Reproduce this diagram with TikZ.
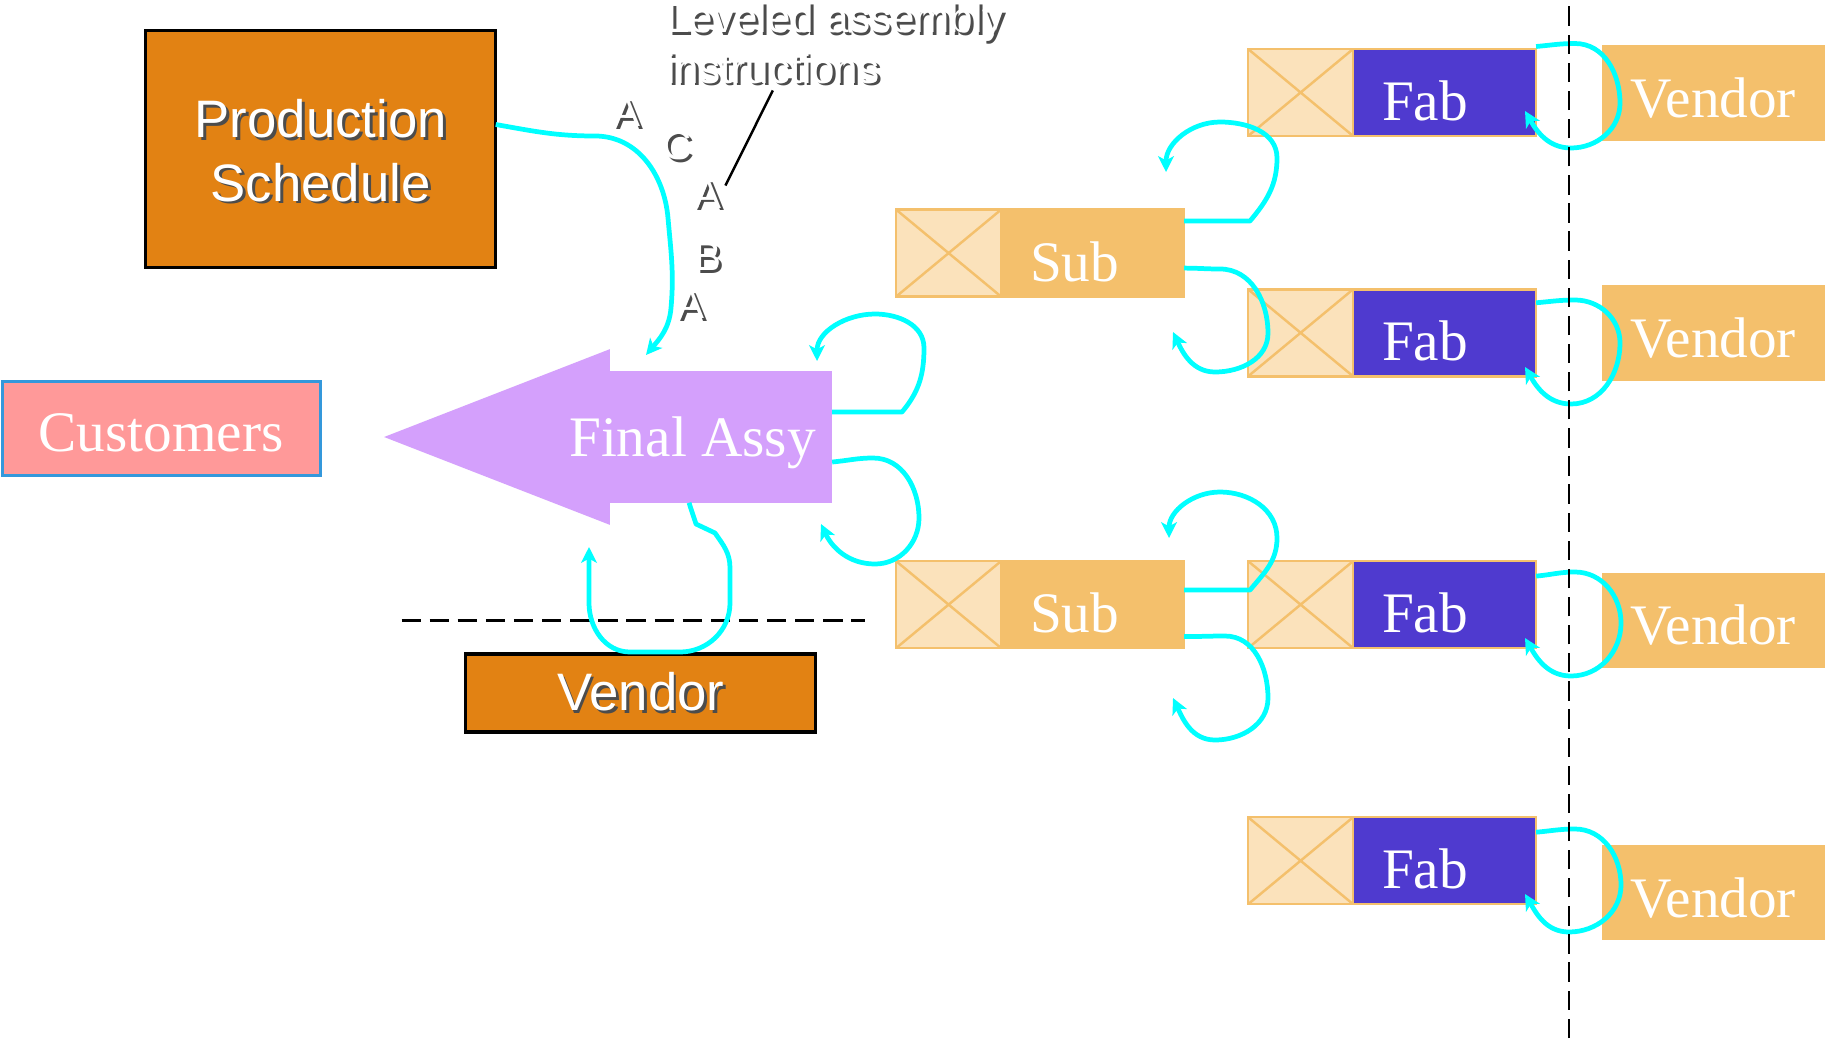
\documentclass[tikz,border=0pt]{standalone}
\usepackage{fontspec}
\setmainfont{Liberation Serif}
\newfontfamily\arialfont{Liberation Sans}
\usepackage{xcolor}
\usepackage{tikz}
\usetikzlibrary{arrows.meta, positioning, calc}
\definecolor{myorange}{RGB}{226,130,19}
\definecolor{mypink}{RGB}{255,153,153}
\definecolor{myblue}{RGB}{52,152,219}
\definecolor{mylilac}{RGB}{212,160,252}
\definecolor{mysand}{RGB}{244,192,108}
\definecolor{mypeach}{RGB}{251,226,187}
\definecolor{myindigo}{RGB}{79,58,207}
\definecolor{mycyan}{RGB}{0,255,255}
\newcommand{\embossed}[1]{\rlap{\kern0.8pt\raisebox{-0.8pt}{\textcolor{black!70}{#1}}}#1}
\tikzset{
  schedbox/.style={rectangle, draw=black, fill=myorange, line width=1pt,
    text=white, align=center, inner sep=0pt, outer sep=0pt,
    font=\arialfont\fontsize{15}{18}\selectfont},
  custbox/.style={rectangle, draw=myblue, fill=mypink, line width=0.9pt,
    text=white, minimum width=3.18cm, minimum height=0.94cm, inner sep=0pt,
    text height=13pt, text depth=0pt, font=\fontsize{16.3}{19}\selectfont},
  crossbox/.style={rectangle, draw=mysand, fill=mypeach, line width=0.7pt,
    minimum width=1.05cm, minimum height=0.87cm, inner sep=0pt, outer sep=0pt,
    path picture={\draw[mysand, line width=0.7pt]
      (path picture bounding box.north west) -- (path picture bounding box.south east)
      (path picture bounding box.south west) -- (path picture bounding box.north east);}},
  subbox/.style={rectangle, draw=mysand, fill=mysand, line width=0.7pt, text=white,
    text width=1.25cm, align=left, inner xsep=0.29cm, inner ysep=0pt,
    text height=16pt, text depth=0pt,
    minimum height=0.87cm, outer sep=0pt, font=\fontsize{16.3}{19}\selectfont},
  fabbox/.style={subbox, fill=myindigo},
  vendbox/.style={subbox, draw=none, text width=1.66cm, minimum height=0.954cm,
    text height=14pt, anchor=west},
  lettr/.style={text=white, inner sep=1pt, font=\arialfont\fontsize{11.5}{13}\selectfont},
  flow/.style={-{Stealth[length=4.5pt, width=4.5pt, inset=1.2pt]}, mycyan,
    line width=1.35pt, line join=round},
  divider/.style={dash pattern=on 5.5pt off 2.5pt, line width=0.75pt}
}

\begin{document}
\begin{tikzpicture}
  \useasboundingbox[fill=white] (0,0) rectangle (18.25,10.38);
  % schedule, customers, vendor
  \node[schedbox, minimum width=3.5cm, minimum height=2.37cm] (sched) at (3.207,8.89) {};
  \node[text=white, align=center, font=\arialfont\fontsize{15}{18}\selectfont] (schedlbl)
    at ([yshift=-0.3mm]sched.center) {\embossed{Production}\\\embossed{Schedule}};
  \node[custbox] (cust) at (1.612,6.091) {Customers};
  \node[schedbox, minimum width=3.5cm, minimum height=0.78cm] (vend) at (6.407,3.449)
    {\embossed{Vendor}};
  % final assembly arrow
  \node[rectangle, fill=mylilac, minimum width=2.223cm, minimum height=1.315cm,
    inner sep=0pt, outer sep=0pt] (assy) at (7.21,6.01) {};
  \coordinate (assytip) at (3.841,6.01);
  \fill[mylilac] (assy.north west) -- ++(0,0.221) -- (assytip)
    -- ([yshift=-2.21mm]assy.south west) -- (assy.south west) -- cycle;
  \node[text=white, font=\fontsize{16.3}{19}\selectfont] (assylbl) at (6.925,5.95) {Final Assy};
  \draw[divider] (4.015,4.176) -- (8.648,4.176);
  % instructions
  \node[lettr, anchor=base west, font=\arialfont\fontsize{12}{14}\selectfont] (lvl1)
    at (6.62,10.05) {\embossed{Leveled assembly}};
  \node[lettr, anchor=base west, font=\arialfont\fontsize{12}{14}\selectfont] (lvl2)
    at (6.62,9.55) {\embossed{instructions}};
  \node[lettr] (ltr1) at (6.273,9.239) {\embossed{A}};
  \node[lettr] (ltr2) at (6.774,8.913) {\embossed{C}};
  \node[lettr] (ltr3) at (7.077,8.425) {\embossed{A}};
  \node[lettr] (ltr4) at (7.077,7.796) {\embossed{B}};
  \node[lettr] (ltr5) at (6.914,7.319) {\embossed{A}};
  \draw[line width=0.7pt] (lvl2.south) -- ([yshift=1mm]ltr3.east);
  % sub assemblies
  \node[crossbox] (sx1) at (9.486,7.849) {};
  \node[subbox, right=0pt of sx1] (sub1) {Sub};
  \node[crossbox] (sx2) at (9.486,4.334) {};
  \node[subbox, right=0pt of sx2] (sub2) {Sub};
  % fabrication
  \node[crossbox] (fx1) at (13.006,9.455) {};
  \node[fabbox, right=0pt of fx1] (fab1) {Fab};
  \node[crossbox] (fx2) at (13.006,7.052) {};
  \node[fabbox, right=0pt of fx2] (fab2) {Fab};
  \node[crossbox] (fx3) at (13.006,4.334) {};
  \node[fabbox, right=0pt of fx3] (fab3) {Fab};
  \node[crossbox] (fx4) at (13.006,1.773) {};
  \node[fabbox, right=0pt of fx4] (fab4) {Fab};
  % outside vendors
  \node[vendbox] (ven1) at (16.015,9.449) {Vendor};
  \node[vendbox] (ven2) at (16.015,7.051) {Vendor};
  \node[vendbox] (ven3) at (16.015,4.177) {Vendor};
  \node[vendbox] (ven4) at (16.015,1.453) {Vendor};
  % kanban loops
  \coordinate (tsched) at (6.46,6.83);
  \draw[flow] ([yshift=2.45mm]sched.east) to[out=-10,in=180] (5.95,9.02)
    to[out=0,in=95] (6.68,8.2) to[out=-85,in=85] (6.71,7.3) to[out=-95,in=50] (tsched);
  \coordinate (ta1) at (8.17,6.77);
  \draw[flow] ([yshift=2.5mm]assy.east) -- (9.02,6.26) to[out=50,in=-90] (9.24,6.9)
    to[out=90,in=0] (8.75,7.24) to[out=180,in=90] (ta1);
  \coordinate (ta2) at (8.21,5.14);
  \draw[flow] ([yshift=-2.5mm]assy.east) to[out=5,in=180] (8.73,5.8) to[out=0,in=90] (9.19,5.2)
    to[out=-90,in=0] (8.75,4.74) to[out=180,in=-65] (ta2);
  \coordinate (tvend) at (5.89,4.91);
  \draw[flow] ([xshift=-3.2mm]assy.south) -- (6.96,5.14) -- (7.15,5.05)
    to[out=-55,in=90] (7.3,4.7) -- (7.3,4.35) to[out=-90,in=0] (6.8,3.86) -- (6.3,3.86)
    to[out=180,in=-90] (5.89,4.35) -- (tvend);
  \coordinate (ts1) at (11.66,8.66);
  \draw[flow] ([yshift=3.2mm]sub1.east) -- (12.5,8.17) to[out=50,in=-90] (12.77,8.8)
    to[out=90,in=0] (12.2,9.16) to[out=180,in=90] (ts1);
  \coordinate (ts2) at (11.73,7.06);
  \draw[flow] ([yshift=-1.5mm]sub1.east) to[out=0,in=180] (12.2,7.69) to[out=0,in=90] (12.68,7.05)
    to[out=-90,in=0] (12.15,6.66) to[out=180,in=-65] (ts2);
  \coordinate (ts3) at (11.69,5.0);
  \draw[flow] ([yshift=1.45mm]sub2.east) -- (12.5,4.48) to[out=50,in=-90] (12.77,5.0)
    to[out=90,in=0] (12.2,5.46) to[out=180,in=90] (ts3);
  \coordinate (ts4) at (11.73,3.4);
  \draw[flow] ([yshift=-3.2mm]sub2.east) to[out=0,in=180] (12.25,4.02) to[out=0,in=90] (12.68,3.4)
    to[out=-90,in=0] (12.15,2.98) to[out=180,in=-65] (ts4);
  \coordinate (tf1) at (15.25,9.27);
  \draw[flow] ([yshift=4.6mm]fab1.east) to[out=5,in=180] (15.75,9.945) to[out=0,in=90] (16.2,9.35)
    to[out=-90,in=0] (15.71,8.9) to[out=180,in=-60] (tf1);
  \coordinate (tf2) at (15.25,6.71);
  \draw[flow] ([yshift=3mm]fab2.east) to[out=5,in=180] (15.75,7.38) to[out=0,in=90] (16.2,6.95)
    to[out=-90,in=0] (15.71,6.34) to[out=180,in=-60] (tf2);
  \coordinate (tf3) at (15.25,4.0);
  \draw[flow] ([yshift=2.85mm]fab3.east) to[out=5,in=180] (15.75,4.66) to[out=0,in=90] (16.21,4.15)
    to[out=-90,in=0] (15.71,3.62) to[out=180,in=-60] (tf3);
  \coordinate (tf4) at (15.25,1.44);
  \draw[flow] ([yshift=2.85mm]fab4.east) to[out=5,in=180] (15.75,2.09) to[out=0,in=90] (16.21,1.53)
    to[out=-90,in=0] (15.69,1.06) to[out=180,in=-60] (tf4);
  % plant boundary
  \draw[divider] (15.689,0) -- (15.689,10.38);
\end{tikzpicture}
\end{document}
